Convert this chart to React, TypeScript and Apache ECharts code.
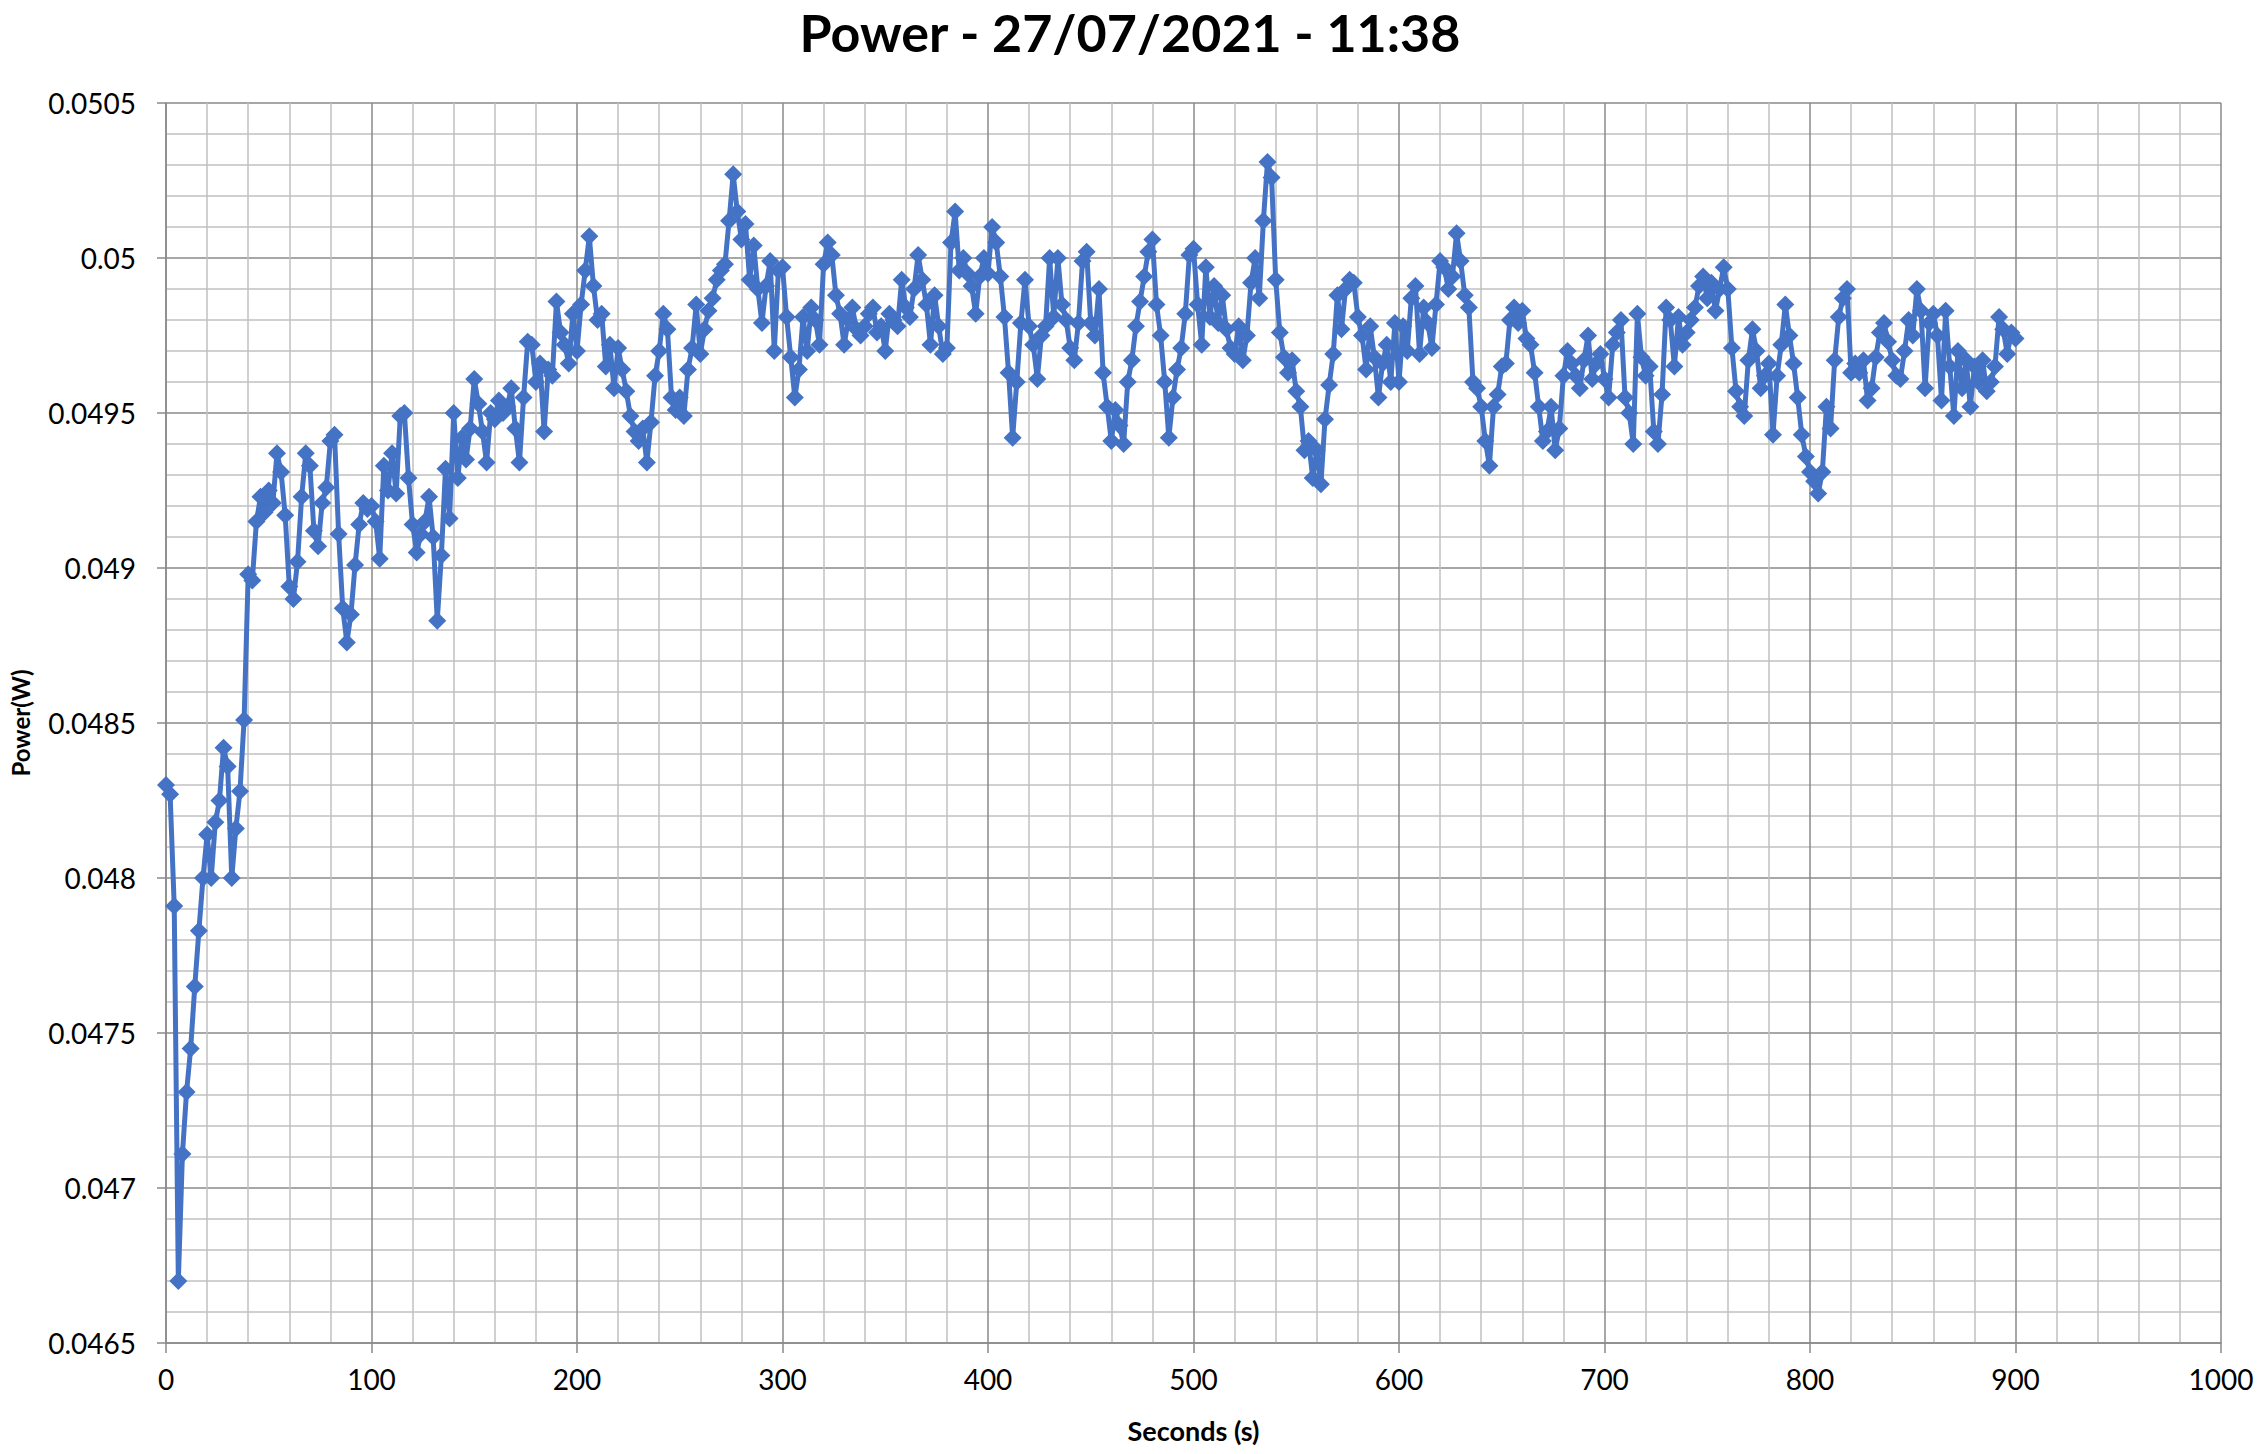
import React, { useEffect, useRef } from "react";
import * as echarts from "echarts";

const TITLE = "Power - 27/07/2021 - 11:38";
const X_NAME = "Seconds (s)";
const Y_NAME = "Power(W)";
const SAMPLE_STEP_S = 2;

// Power readings (W), one every 2 s
const power000to098 = [
  0.0483, 0.04827, 0.04791, 0.0467, 0.04711, 0.04731, 0.04745, 0.04765, 0.04783, 0.048,
  0.04814, 0.048, 0.04818, 0.04825, 0.04842, 0.04836, 0.048, 0.04816, 0.04828, 0.04851,
  0.04898, 0.04896, 0.04915, 0.04923, 0.04918, 0.04925, 0.04921, 0.04937, 0.04931, 0.04917,
  0.04894, 0.0489, 0.04902, 0.04923, 0.04937, 0.04933, 0.04912, 0.04907, 0.04921, 0.04926,
  0.04941, 0.04943, 0.04911, 0.04887, 0.04876, 0.04885, 0.04901, 0.04914, 0.04921, 0.04919,
];
const power100to198 = [
  0.0492, 0.04915, 0.04903, 0.04933, 0.04925, 0.04937, 0.04924, 0.04949, 0.0495, 0.04929,
  0.04914, 0.04905, 0.04911, 0.04915, 0.04923, 0.0491, 0.04883, 0.04904, 0.04932, 0.04916,
  0.0495, 0.04929, 0.04942, 0.04935, 0.04945, 0.04961, 0.04953, 0.04944, 0.04934, 0.0495,
  0.04948, 0.04954, 0.0495, 0.04952, 0.04958, 0.04945, 0.04934, 0.04955, 0.04973, 0.04972,
  0.0496, 0.04966, 0.04944, 0.04964, 0.04962, 0.04986, 0.04976, 0.04972, 0.04966, 0.04982,
];
const power200to298 = [
  0.0497, 0.04985, 0.04996, 0.05007, 0.04991, 0.0498, 0.04982, 0.04965, 0.04972, 0.04958,
  0.04971, 0.04964, 0.04957, 0.04949, 0.04944, 0.04941, 0.04945, 0.04934, 0.04947, 0.04962,
  0.0497, 0.04982, 0.04977, 0.04955, 0.04951, 0.04955, 0.04949, 0.04964, 0.04971, 0.04985,
  0.04969, 0.04977, 0.04983, 0.04987, 0.04993, 0.04996, 0.04998, 0.05012, 0.05027, 0.05015,
  0.05006, 0.05011, 0.04993, 0.05004, 0.0499, 0.04979, 0.04991, 0.04999, 0.0497, 0.04996,
];
const power300to398 = [
  0.04997, 0.04981, 0.04968, 0.04955, 0.04964, 0.04981, 0.0497, 0.04984, 0.0498, 0.04972,
  0.04998, 0.05005, 0.05001, 0.04988, 0.04982, 0.04972, 0.0498, 0.04984, 0.04977, 0.04975,
  0.04978, 0.04982, 0.04984, 0.04976, 0.04978, 0.0497, 0.04982, 0.0498, 0.04978, 0.04993,
  0.04984, 0.04981, 0.0499, 0.05001, 0.04993, 0.04985, 0.04972, 0.04988, 0.04978, 0.04969,
  0.04971, 0.05005, 0.05015, 0.04996, 0.05, 0.04995, 0.04991, 0.04982, 0.04994, 0.05,
];
const power400to498 = [
  0.04995, 0.0501, 0.05005, 0.04994, 0.04981, 0.04963, 0.04942, 0.0496, 0.04979, 0.04993,
  0.04978, 0.04972, 0.04961, 0.04975, 0.04978, 0.05, 0.04981, 0.05, 0.04985, 0.0498,
  0.04971, 0.04967, 0.04979, 0.04999, 0.05002, 0.04979, 0.04975, 0.0499, 0.04963, 0.04952,
  0.04941, 0.04951, 0.04946, 0.0494, 0.0496, 0.04967, 0.04978, 0.04986, 0.04994, 0.05002,
  0.05006, 0.04985, 0.04975, 0.0496, 0.04942, 0.04955, 0.04964, 0.04971, 0.04982, 0.05001,
];
const power500to598 = [
  0.05003, 0.04985, 0.04972, 0.04997, 0.04981, 0.04991, 0.04979, 0.04988, 0.04977, 0.04971,
  0.04969, 0.04978, 0.04967, 0.04975, 0.04992, 0.05, 0.04987, 0.05012, 0.05031, 0.05026,
  0.04993, 0.04976, 0.04968, 0.04963, 0.04967, 0.04957, 0.04952, 0.04938, 0.04941, 0.04929,
  0.04938, 0.04927, 0.04948, 0.04959, 0.04969, 0.04988, 0.04977, 0.0499, 0.04993, 0.04992,
  0.04981, 0.04975, 0.04964, 0.04978, 0.04968, 0.04955, 0.04966, 0.04972, 0.0496, 0.04979,
];
const power600to698 = [
  0.0496, 0.04978, 0.0497, 0.04987, 0.04991, 0.04969, 0.04984, 0.04979, 0.04971, 0.04985,
  0.04999, 0.04997, 0.0499, 0.04994, 0.05008, 0.04999, 0.04988, 0.04984, 0.0496, 0.04958,
  0.04952, 0.04941, 0.04933, 0.04952, 0.04956, 0.04965, 0.04966, 0.0498, 0.04984, 0.04979,
  0.04983, 0.04974, 0.04972, 0.04963, 0.04952, 0.04941, 0.04944, 0.04952, 0.04938, 0.04945,
  0.04962, 0.0497, 0.04966, 0.04962, 0.04958, 0.04967, 0.04975, 0.04961, 0.04966, 0.04969,
];
const power700to798 = [
  0.04961, 0.04955, 0.04972, 0.04976, 0.0498, 0.04955, 0.0495, 0.0494, 0.04982, 0.04968,
  0.04962, 0.04965, 0.04944, 0.0494, 0.04956, 0.04984, 0.0498, 0.04965, 0.04981, 0.04972,
  0.04976, 0.0498, 0.04984, 0.04991, 0.04994, 0.04987, 0.04992, 0.04983, 0.0499, 0.04997,
  0.0499, 0.04971, 0.04957, 0.04952, 0.04949, 0.04967, 0.04977, 0.0497, 0.04958, 0.04962,
  0.04966, 0.04943, 0.04962, 0.04972, 0.04985, 0.04975, 0.04966, 0.04955, 0.04943, 0.04936,
];
const power800to900 = [
  0.04931, 0.04928, 0.04924, 0.04931, 0.04952, 0.04945, 0.04967, 0.04981, 0.04987, 0.0499,
  0.04963, 0.04966, 0.04963, 0.04967, 0.04954, 0.04958, 0.04968, 0.04976, 0.04979, 0.04973,
  0.04967, 0.04962, 0.04961, 0.0497, 0.0498, 0.04975, 0.0499, 0.04983, 0.04958, 0.04979,
  0.04982, 0.04975, 0.04954, 0.04983, 0.04965, 0.04949, 0.0497, 0.04958, 0.04967, 0.04952,
  0.04965, 0.0496, 0.04967, 0.04957, 0.0496, 0.04965, 0.04981, 0.04977, 0.04969, 0.04976,
  0.04974,
];

const powerValues = [
  ...power000to098,
  ...power100to198,
  ...power200to298,
  ...power300to398,
  ...power400to498,
  ...power500to598,
  ...power600to698,
  ...power700to798,
  ...power800to900,
];

const FONT = "Lato";
const MAJOR = "#8a8a8a";
const MINOR = "#c0c0c0";
const BLUE = "#4472C4";

export default function App() {
  const ref = useRef<HTMLDivElement>(null);
  useEffect(() => {
    const chart = echarts.init(ref.current!, null, { renderer: "svg" });
    const data = powerValues.map((v, i) => [i * SAMPLE_STEP_S, v]);
    chart.setOption({
      animation: false,
      backgroundColor: "#ffffff",
      title: {
        text: TITLE,
        left: "center",
        top: 1,
        textStyle: { fontFamily: FONT, fontWeight: "bold", fontSize: 52, color: "#000" },
      },
      grid: { left: 166, right: 39, top: 103, bottom: 111, containLabel: false },
      xAxis: {
        type: "value",
        min: 0,
        max: 1000,
        interval: 100,
        name: X_NAME,
        nameLocation: "middle",
        nameGap: 74,
        nameTextStyle: { fontFamily: FONT, fontWeight: "bold", fontSize: 27, color: "#000" },
        axisLine: { show: true, lineStyle: { color: MAJOR, width: 1.5 } },
        axisTick: { show: true, length: 10, lineStyle: { color: MAJOR, width: 1.5 } },
        axisLabel: {
          margin: 22,
          fontFamily: FONT,
          fontSize: 28,
          color: "#000",
          formatter: (v: number) => String(Math.round(v)),
        },
        splitLine: { show: true, lineStyle: { color: MAJOR, width: 1.5 } },
        minorTick: { show: false, splitNumber: 5 },
        minorSplitLine: { show: true, lineStyle: { color: MINOR, width: 1.5 } },
      },
      yAxis: {
        type: "value",
        min: 0.0465,
        max: 0.0505,
        interval: 0.0005,
        name: Y_NAME,
        nameLocation: "middle",
        nameGap: 134,
        nameTextStyle: { fontFamily: FONT, fontWeight: "bold", fontSize: 24, color: "#000" },
        axisLine: { show: true, lineStyle: { color: MAJOR, width: 1.5 } },
        axisTick: { show: true, length: 9, lineStyle: { color: MAJOR, width: 1.5 } },
        axisLabel: {
          margin: 30,
          fontFamily: FONT,
          fontSize: 28,
          color: "#000",
          formatter: (v: number) => String(parseFloat(v.toFixed(4))),
        },
        splitLine: { show: true, lineStyle: { color: MAJOR, width: 1.5 } },
        minorTick: { show: false, splitNumber: 5 },
        minorSplitLine: { show: true, lineStyle: { color: MINOR, width: 1.5 } },
      },
      series: [
        {
          type: "line",
          data,
          symbol: "diamond",
          symbolSize: 18,
          showSymbol: true,
          lineStyle: { color: BLUE, width: 5 },
          itemStyle: { color: BLUE },
        },
      ],
    });
    return () => chart.dispose();
  }, []);
  return (
    <div
      ref={ref}
      style={{ position: "fixed", left: 0, top: 0, width: 2260, height: 1454, background: "#fff" }}
    />
  );
}
